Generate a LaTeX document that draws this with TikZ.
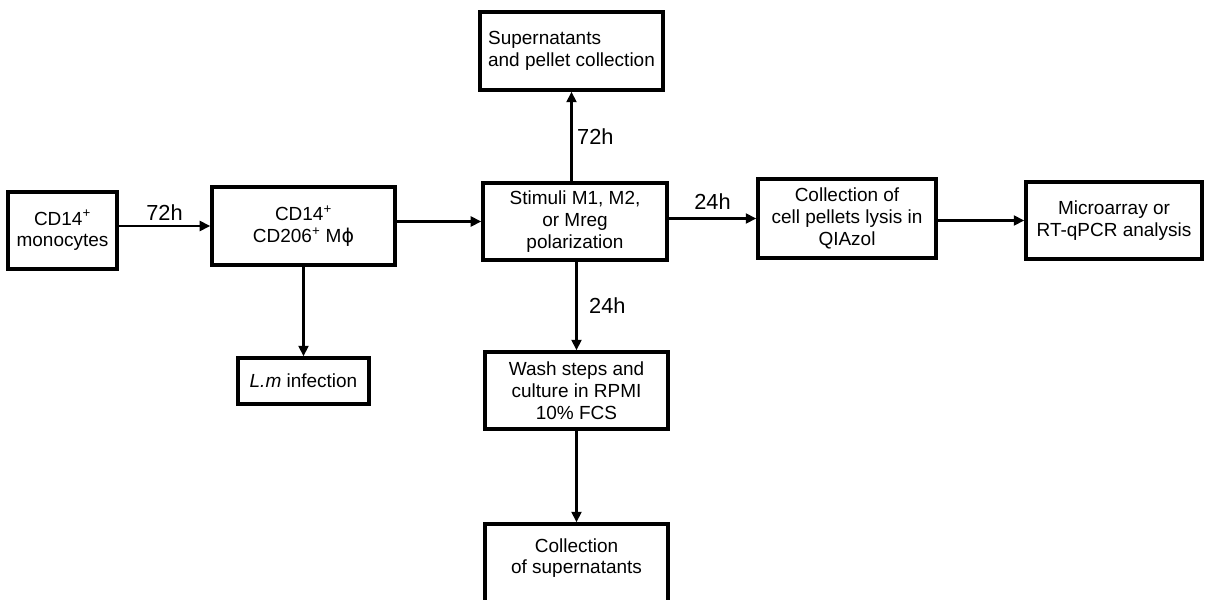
\documentclass[tikz,border=0pt]{standalone}
\usepackage{fontspec}
\setmainfont{Liberation Sans}
\newfontfamily\symfont{DejaVu Sans}
\usetikzlibrary{arrows.meta}

\tikzset{
  stepbox/.style={draw, line width=2.4pt, inner sep=0pt, align=center,
    minimum width=4.575cm, minimum height=1.925cm},
  arr/.style={line width=2.1pt, -{Triangle[length=7.5pt,width=7pt]}},
  timelbl/.style={inner sep=3pt, font=\fontsize{15.5}{18}\selectfont}
}

\begin{document}
\begin{tikzpicture}[x=0.025cm, y=-0.025cm, font=\fontsize{13.5}{15.5}\selectfont]
  \useasboundingbox (0,0) rectangle (1217,599);

  % Draw the boxes
  \node[stepbox, minimum width=2.725cm] (mono) at (62.5,230.5) {CD14\textsuperscript{+}\\monocytes};
  \node[stepbox, minimum height=1.95cm] (mac) at (303.5,226) {CD14\textsuperscript{+}\\CD206\textsuperscript{+} M{\symfont ϕ}};
  \node[stepbox, minimum width=3.275cm, minimum height=1.15cm] (infect) at (303.5,381) {\textit{L.m} infection};
  \node[stepbox, minimum width=4.6cm] (stim) at (575,221.5) {Stimuli M1, M2,\\or Mreg\\polarization};
  \node[stepbox, minimum height=1.95cm, align=left] (supn) at (571.5,51) {Supernatants\\and pellet collection};
  \node[stepbox, minimum width=4.45cm, minimum height=1.975cm] (lysis) at (847,218.5) {Collection of\\cell pellets lysis in\\QIAzol};
  \node[stepbox, minimum width=4.4cm] (array) at (1114,220.5) {Microarray or\\RT-qPCR analysis};
  \node[stepbox] (wash) at (576.5,390.5) {Wash steps and\\culture in RPMI\\10\% FCS};
  \node[stepbox, minimum height=2.15cm] (coll) at (576.5,567) {Collection\\of supernatants\\\mbox{}};

  % Draw the arrows
  \draw[arr] (mono.east |- mac) -- node[timelbl, above] {72h} (mac.west);
  \draw[arr] (mac.east |- stim) -- (stim.west);
  \draw[arr] (mac.south) -- (infect.north);
  \draw[arr] (stim.north -| supn) -- node[timelbl, right] {72h} (supn.south);
  \draw[arr] (stim.east |- lysis) -- node[timelbl, above, yshift=2pt] {24h} (lysis.west);
  \draw[arr] (lysis.east |- array) -- (array.west);
  \draw[arr] (stim.south -| wash) -- node[timelbl, right, xshift=5pt] {24h} (wash.north);
  \draw[arr] (wash.south) -- (coll.north);
\end{tikzpicture}
\end{document}
